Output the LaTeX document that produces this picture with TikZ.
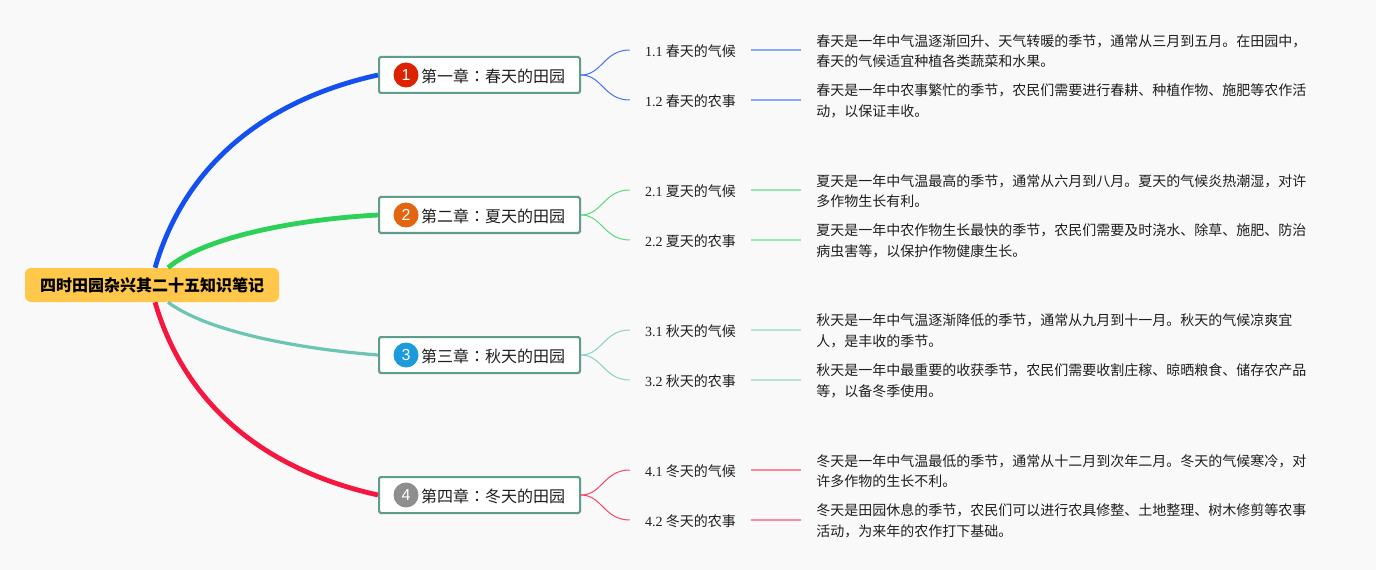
\documentclass[tikz,border=0pt]{standalone}
\usepackage{fontspec}
\setmainfont{Noto Sans CJK SC}
\newfontfamily\numfont{Liberation Serif}
\newfontfamily\badgefont{Liberation Sans}
\newfontfamily\colonfont{Noto Sans CJK TC}
\usetikzlibrary{positioning}
\definecolor{pagebg}{HTML}{F9F9FA}
\definecolor{rootfill}{HTML}{FFC84A}
\definecolor{chapline}{HTML}{5F9C8C}
\definecolor{inktext}{HTML}{1E1E1E}
\definecolor{springc}{HTML}{1450F0}
\definecolor{summerc}{HTML}{2ED158}
\definecolor{autumnc}{HTML}{6CC5B3}
\definecolor{winterc}{HTML}{F5173F}
\tikzset{
  rootbox/.style={draw=none,fill=rootfill,rounded corners=4.5pt,minimum width=190.5pt,minimum height=25.5pt,inner sep=0pt,font=\fontsize{12}{14}\selectfont\bfseries,text=black},
  chapbox/.style={draw=chapline,line width=1.5pt,fill=white,rounded corners=1.2pt,minimum width=150.75pt,minimum height=27pt,inner sep=0pt,font=\fontsize{12}{14}\selectfont,text=inktext,text height=12.5pt,text depth=1.8pt,execute at begin node={\hspace*{20.25pt}}},
  badge/.style={circle,minimum size=18.75pt,inner sep=0pt,text=white,font=\badgefont\fontsize{12}{14}\selectfont},
  subbox/.style={minimum width=90.75pt,minimum height=15pt,inner sep=0pt,font=\fontsize{10.5}{14}\selectfont,text=inktext,text height=11pt,text depth=1.5pt},
  notebox/.style={align=left,inner xsep=11.25pt,inner ysep=0pt,yshift=-0.75pt,font=\fontsize{10.5}{15.4}\selectfont,text=inktext},
  mainedge/.style={line width=3.6pt},
  thinedge/.style={line width=2.4pt},
  subedge/.style={line width=0.75pt},
  noteedge/.style={line width=1.5pt}
}
\newcommand{\secnum}[1]{{\numfont #1}}
\newcommand{\chapcolon}{{\colonfont ：}}
\begin{document}
\begin{tikzpicture}[x=0.75pt,y=0.75pt,yscale=-1,xscale=1]
\useasboundingbox (0,0) rectangle (1376,570);
\fill[pagebg] (0,0) rectangle (1376,570);

% Root
\node[rootbox] (root) at (152,285) {四时田园杂兴其二十五知识笔记};

% Chapters
\node[chapbox] (cha1) at (479.5,75) {第一章\chapcolon 春天的田园};
\node[chapbox] (cha2) at (479.5,215) {第二章\chapcolon 夏天的田园};
\node[chapbox] (cha3) at (479.5,355) {第三章\chapcolon 秋天的田园};
\node[chapbox] (cha4) at (479.5,495) {第四章\chapcolon 冬天的田园};
\node[badge,fill={rgb,255:red,221;green,34;blue,0}] (num1) at (406,75) {1};
\node[badge,fill={rgb,255:red,228;green,101;blue,15}] (num2) at (406,215) {2};
\node[badge,fill={rgb,255:red,28;green,155;blue,220}] (num3) at (406,355) {3};
\node[badge,fill={rgb,255:red,142;green,142;blue,142}] (num4) at (406,495) {4};

% Sections
\node[subbox] (sub11) at (690.5,50) {\secnum{1.1} 春天的气候};
\node[subbox] (sub12) at (690.5,100) {\secnum{1.2} 春天的农事};
\node[subbox] (sub21) at (690.5,190) {\secnum{2.1} 夏天的气候};
\node[subbox] (sub22) at (690.5,240) {\secnum{2.2} 夏天的农事};
\node[subbox] (sub31) at (690.5,330) {\secnum{3.1} 秋天的气候};
\node[subbox] (sub32) at (690.5,380) {\secnum{3.2} 秋天的农事};
\node[subbox] (sub41) at (690.5,470) {\secnum{4.1} 冬天的气候};
\node[subbox] (sub42) at (690.5,520) {\secnum{4.2} 冬天的农事};

% Notes
\node[notebox,anchor=west] (note11) at (801,50) {春天是一年中气温逐渐回升、天气转暖的季节，通常从三月到五月。在田园中，\\春天的气候适宜种植各类蔬菜和水果。};
\node[notebox,anchor=west] (note12) at (801,100) {春天是一年中农事繁忙的季节，农民们需要进行春耕、种植作物、施肥等农作活\\动，以保证丰收。};
\node[notebox,anchor=west] (note21) at (801,190) {夏天是一年中气温最高的季节，通常从六月到八月。夏天的气候炎热潮湿，对许\\多作物生长有利。};
\node[notebox,anchor=west] (note22) at (801,240) {夏天是一年中农作物生长最快的季节，农民们需要及时浇水、除草、施肥、防治\\病虫害等，以保护作物健康生长。};
\node[notebox,anchor=west] (note31) at (801,330) {秋天是一年中气温逐渐降低的季节，通常从九月到十一月。秋天的气候凉爽宜\\人，是丰收的季节。};
\node[notebox,anchor=west] (note32) at (801,380) {秋天是一年中最重要的收获季节，农民们需要收割庄稼、晾晒粮食、储存农产品\\等，以备冬季使用。};
\node[notebox,anchor=west] (note41) at (801,470) {冬天是一年中气温最低的季节，通常从十二月到次年二月。冬天的气候寒冷，对\\许多作物的生长不利。};
\node[notebox,anchor=west] (note42) at (801,520) {冬天是田园休息的季节，农民们可以进行农具修整、土地整理、树木修剪等农事\\活动，为来年的农作打下基础。};

% Main branches
\draw[mainedge,springc] (root.80) .. controls (185,165) and (265,100) .. (cha1.west);
\draw[mainedge,summerc] (root.47) .. controls (200,240) and (285,220) .. (cha2.west);
\draw[thinedge,autumnc] (root.-47) .. controls (205,330) and (290,348) .. (cha3.west);
\draw[mainedge,winterc] (root.-80) .. controls (185,405) and (265,470) .. (cha4.west);

% Section branches
\draw[subedge,springc!80!white] (cha1.east) .. controls (602,75) and (604,50) .. (sub11.west);
\draw[subedge,springc!80!white] (cha1.east) .. controls (602,75) and (604,100) .. (sub12.west);
\draw[subedge,summerc!80!white] (cha2.east) .. controls (602,215) and (604,190) .. (sub21.west);
\draw[subedge,summerc!80!white] (cha2.east) .. controls (602,215) and (604,240) .. (sub22.west);
\draw[subedge,autumnc!80!white] (cha3.east) .. controls (602,355) and (604,330) .. (sub31.west);
\draw[subedge,autumnc!80!white] (cha3.east) .. controls (602,355) and (604,380) .. (sub32.west);
\draw[subedge,winterc!80!white] (cha4.east) .. controls (602,495) and (604,470) .. (sub41.west);
\draw[subedge,winterc!80!white] (cha4.east) .. controls (602,495) and (604,520) .. (sub42.west);

% Note bars
\draw[noteedge,springc!50!white] (sub11.east) -- (sub11.east -| note11.west);
\draw[noteedge,springc!50!white] (sub12.east) -- (sub12.east -| note12.west);
\draw[noteedge,summerc!50!white] (sub21.east) -- (sub21.east -| note21.west);
\draw[noteedge,summerc!50!white] (sub22.east) -- (sub22.east -| note22.west);
\draw[noteedge,autumnc!50!white] (sub31.east) -- (sub31.east -| note31.west);
\draw[noteedge,autumnc!50!white] (sub32.east) -- (sub32.east -| note32.west);
\draw[noteedge,winterc!50!white] (sub41.east) -- (sub41.east -| note41.west);
\draw[noteedge,winterc!50!white] (sub42.east) -- (sub42.east -| note42.west);
\end{tikzpicture}
\end{document}
